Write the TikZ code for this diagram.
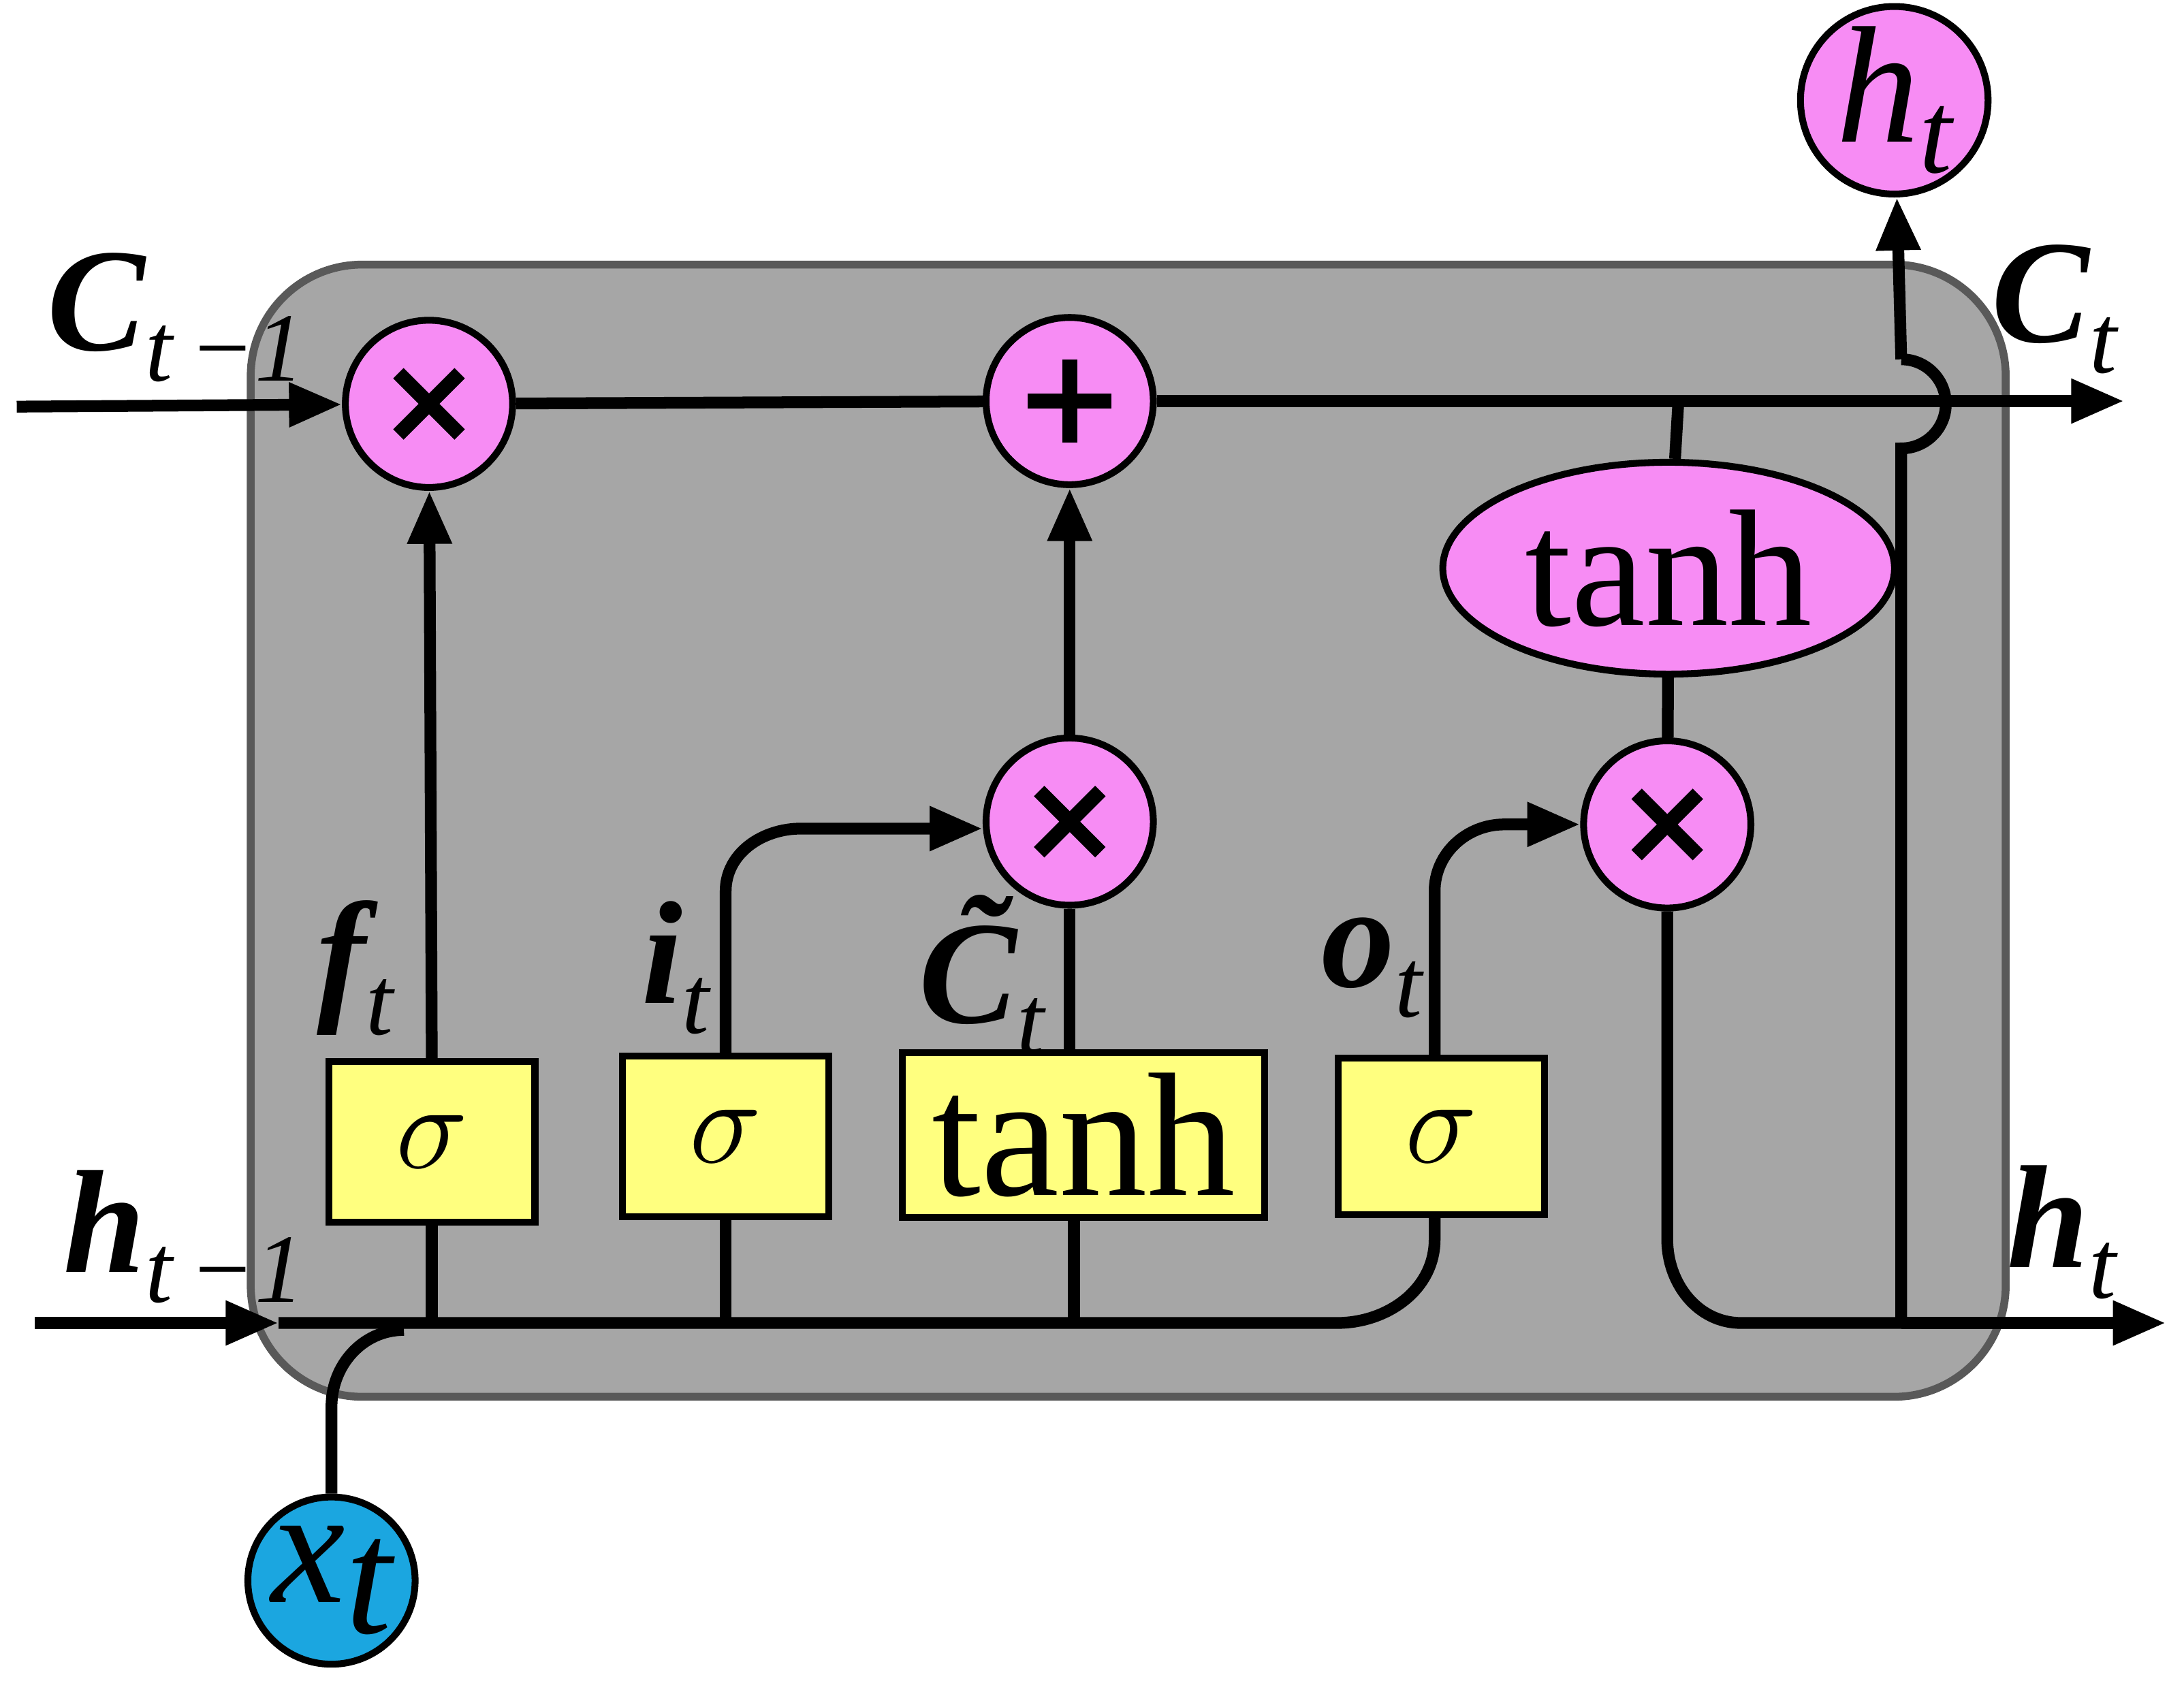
\documentclass[tikz,border=0pt]{standalone}
\usepackage{fontspec}
\setmainfont{Liberation Serif}
\usetikzlibrary{arrows.meta,shapes.geometric}
\definecolor{cellgray}{HTML}{A6A6A6}
\definecolor{opink}{HTML}{F78CF4}
\definecolor{gateyel}{HTML}{FFFF7F}
\definecolor{inblue}{HTML}{1BA6E0}
\newcommand{\lsub}[2]{{\bfseries\itshape #1}\raisebox{-0.45ex}{\fontsize{20}{20}\selectfont\itshape #2}}
\begin{document}
\begin{tikzpicture}[x=0.01cm, y=-0.01cm,
            line width=2.4pt,
            op/.style={draw, circle, fill=opink, minimum size=1.2cm, inner sep=0pt, line width=1.4pt},
            gate/.style={draw, rectangle, fill=gateyel, minimum height=1.15cm, minimum width=1.48cm, inner sep=0pt, line width=1.4pt, font=\fontsize{36}{36}\selectfont},
            sym/.style={line width=3pt},
            lbl/.style={font=\fontsize{30}{30}\selectfont},
            arr/.style={-{Triangle[length=0.38cm, width=0.3cm]}},
            ]
  \useasboundingbox (0,0) rectangle (1568,1215);
  % cell body
  \draw[fill=cellgray, draw=gray!70!black, line width=1.6pt, rounded corners=0.8cm] (180,190) rectangle (1440,1003);
  % operators
  \node[op] (forget) at (308,290) {};
  \node[op] (add) at (768,288) {};
  \node[op] (inmul) at (768,590) {};
  \node[op] (outmul) at (1197,592) {};
  \foreach \o in {forget,inmul,outmul}
    \draw[sym] (\o) +(-22,-22) -- +(22,22) +(-22,22) -- +(22,-22);
  \draw[sym] (add) +(-30,0) -- +(30,0) +(0,-30) -- +(0,30);
  \node[draw, ellipse, fill=opink, minimum width=2.6cm, minimum height=1.2cm, line width=1.4pt, font=\fontsize{34}{34}\selectfont] (celltanh) at (1198,408) {tanh};
  % gates
  \node[gate] (fgate) at (310,820) {$\sigma$};
  \node[gate] (igate) at (521,816) {$\sigma$};
  \node[gate, minimum width=2.6cm, minimum height=1.18cm] (cgate) at (778,815) {tanh};
  \node[gate, minimum height=1.12cm] (ogate) at (1035,816) {$\sigma$};
  % inputs and outputs
  \node[draw, circle, fill=inblue, minimum size=1.2cm, inner sep=0pt, line width=1.4pt, font=\fontsize{34}{34}\selectfont] (xin) at (238,1135) {\itshape x\raisebox{-0.4ex}{t}};
  \node[draw, circle, fill=opink, minimum size=1.2cm, inner sep=0pt, line width=1.4pt, font=\fontsize{34}{34}\selectfont] (hout) at (1360,72) {\itshape h\raisebox{-0.4ex}{\fontsize{24}{24}\selectfont t}};
  \coordinate (cin) at (12,292);
  \coordinate (cout) at (1525,288);
  \coordinate (hin) at (25,950);
  \coordinate (hend) at (1555,950);
  % cell state
  \draw[arr] (cin) -- (forget);
  \draw (forget) -- (add);
  \draw[arr] (add) -- (cout);
  \draw (1205,288) -- (celltanh);
  \draw (celltanh) -- (outmul);
  % hidden input line
  \draw[arr] (hin) -- (200,950);
  \draw (200,950) -- (960,950) to[out=0, in=-90] (1030,890) -- (1030,872);
  \draw (xin.north) -- (238,1010) to[out=90, in=180] (290,955);
  \draw (fgate.south) -- (310,950);
  \draw (igate.south) -- (521,950);
  \draw (771,874) -- (771,950);
  % gate outputs
  \draw[arr] (fgate.north) -- (forget);
  \draw[arr] (igate.north) -- (521,640) to[out=90, in=180] (575,595) -- (inmul.west|-0,595);
  \draw (768,756) -- (inmul);
  \draw[arr] (inmul) -- (add);
  \draw[arr] (1030,760) -- (1030,640) to[out=90, in=180] (1080,592) -- (outmul);
  % output path
  \draw (outmul) -- (1197,890) to[out=-90, in=180] (1250,950) -- (1365,950);
  \draw[arr] (1365,950) -- (hend);
  \draw (1365,950) -- (1365,322) arc[start angle=90, end angle=-90, radius=32];
  \draw[arr] (1365,258) -- (hout);
  % labels
  \node[lbl, anchor=west] (lcprev) at (18,228) {\lsub{C}{t\,−1}};
  \node[lbl, anchor=west] (lhprev) at (30,888) {\lsub{h}{t\,−1}};
  \node[lbl] (lf) at (255,695) {\lsub{f}{t}};
  \node[lbl] (li) at (485,695) {\lsub{i}{t}};
  \node[lbl] (lct) at (705,700) {\lsub{\~{C}}{t}};
  \node[lbl] (lo) at (985,695) {\lsub{o}{t}};
  \node[lbl] (lc) at (1475,222) {\lsub{C}{t}};
  \node[lbl] (lh) at (1480,885) {\lsub{h}{t}};
\end{tikzpicture}
\end{document}
